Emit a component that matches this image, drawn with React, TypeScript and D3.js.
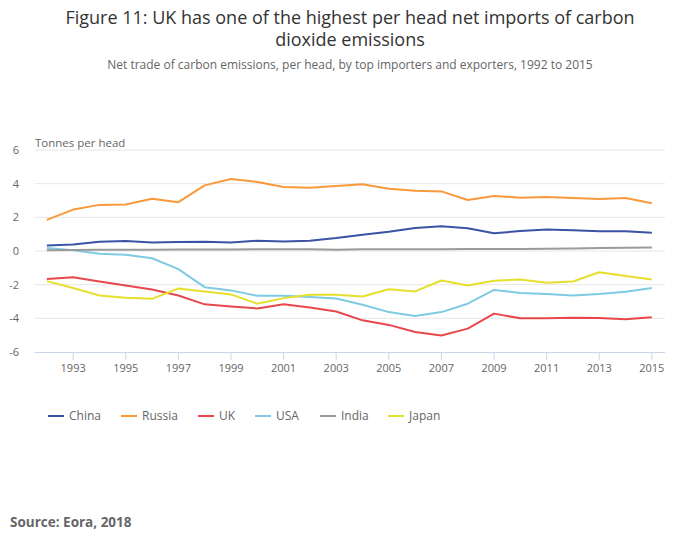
import React from "react";
import * as d3 from "d3";

const years = d3.range(1992, 2016);
const china = [0.32, 0.39, 0.55, 0.59, 0.51, 0.53, 0.55, 0.51, 0.61, 0.57, 0.61, 0.77, 0.97, 1.15, 1.37, 1.47, 1.35, 1.05, 1.19, 1.27, 1.23, 1.17, 1.17, 1.09];
const russia = [1.85, 2.46, 2.74, 2.76, 3.1, 2.9, 3.9, 4.28, 4.1, 3.8, 3.76, 3.86, 3.96, 3.7, 3.58, 3.54, 3.03, 3.27, 3.17, 3.21, 3.15, 3.09, 3.15, 2.84];
const uk = [-1.66, -1.56, -1.81, -2.05, -2.29, -2.64, -3.17, -3.29, -3.41, -3.17, -3.35, -3.59, -4.12, -4.39, -4.81, -5.02, -4.61, -3.72, -4.0, -4.0, -3.96, -3.98, -4.06, -3.94];
const usa = [0.18, 0.04, -0.16, -0.22, -0.43, -1.08, -2.15, -2.34, -2.66, -2.66, -2.74, -2.82, -3.19, -3.63, -3.86, -3.63, -3.13, -2.31, -2.5, -2.56, -2.64, -2.56, -2.42, -2.2];
const india = [0.05, 0.06, 0.07, 0.08, 0.08, 0.09, 0.09, 0.09, 0.1, 0.1, 0.1, 0.08, 0.1, 0.1, 0.1, 0.1, 0.12, 0.12, 0.12, 0.13, 0.15, 0.18, 0.2, 0.21];
const japan = [-1.79, -2.2, -2.64, -2.78, -2.84, -2.23, -2.4, -2.58, -3.13, -2.8, -2.6, -2.6, -2.7, -2.27, -2.4, -1.75, -2.05, -1.77, -1.69, -1.89, -1.81, -1.26, -1.48, -1.69];

const seriesNames = ["China", "Russia", "UK", "USA", "India", "Japan"];
const seriesValues = [china, russia, uk, usa, india, japan];
const seriesColors = ["#3a53a4", "#f89a3c", "#e8484c", "#7fcbe3", "#9a9a9a", "#e6df2c"];
const yTicks = [-6, -4, -2, 0, 2, 4, 6];
const xTicks = d3.range(1993, 2016, 2);

const FONT = "'Open Sans', sans-serif";

export default function App() {
  const W = 700, H = 549;
  const left = 35, right = 665, top = 150, bottom = 352;
  const x = d3.scaleLinear().domain([1991.55, 2015.5]).range([left, right]);
  const y = d3.scaleLinear().domain([-6, 6]).range([bottom, top]);
  const line = d3.line<number>().x((_, i) => x(years[i])).y((v) => y(v));
  const legendX = [48, 121, 198, 255, 320, 388];

  return (
    <svg width={W} height={H} style={{ position: "absolute", left: 0, top: 0, fontFamily: FONT }}>
      <rect width={W} height={H} fill="#fff" />
      <text x={350} y={24} textAnchor="middle" fontSize={18} fill="#333">Figure 11: UK has one of the highest per head net imports of carbon</text>
      <text x={350} y={46} textAnchor="middle" fontSize={18} fill="#333">dioxide emissions</text>
      <text x={350} y={69} textAnchor="middle" fontSize={12} fill="#666">Net trade of carbon emissions, per head, by top importers and exporters, 1992 to 2015</text>
      <text x={35} y={147} fontSize={11.5} fill="#666">Tonnes per head</text>
      {yTicks.map((t) => (
        <g key={t}>
          {t !== -6 && <line x1={left} x2={right} y1={y(t)} y2={y(t)} stroke="#e6e6e6" strokeWidth={1} />}
          <text x={19} y={y(t) + 4} textAnchor="end" fontSize={11} fill="#666">{t}</text>
        </g>
      ))}
      <line x1={left} x2={right} y1={bottom + 0.5} y2={bottom + 0.5} stroke="#ccd6eb" strokeWidth={1} />
      {xTicks.map((t) => (
        <g key={t}>
          <line x1={x(t)} x2={x(t)} y1={bottom} y2={bottom + 8} stroke="#ccd6eb" />
          <text x={x(t)} y={bottom + 20} textAnchor="middle" fontSize={11} fill="#666">{t}</text>
        </g>
      ))}
      {seriesValues.map((vals, i) => (
        <path key={seriesNames[i]} d={line(vals) || ""} fill="none" stroke={seriesColors[i]} strokeWidth={2} strokeLinejoin="round" />
      ))}
      {seriesNames.map((n, i) => (
        <g key={n}>
          <line x1={legendX[i]} x2={legendX[i] + 16} y1={416} y2={416} stroke={seriesColors[i]} strokeWidth={2} />
          <text x={legendX[i] + 21} y={420} fontSize={12} fill="#666">{n}</text>
        </g>
      ))}
      <text x={10} y={527} fontSize={13.5} fontWeight="bold" fill="#666">Source: Eora, 2018</text>
    </svg>
  );
}
